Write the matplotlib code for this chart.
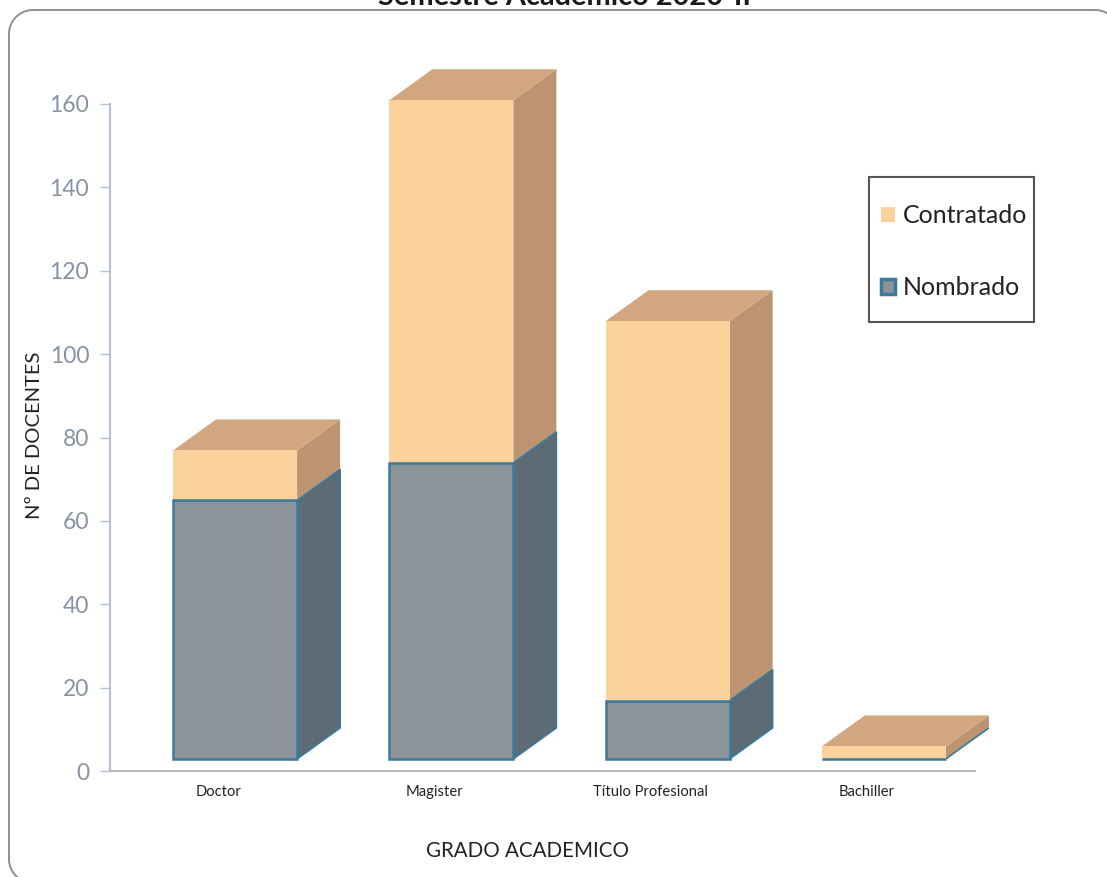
import numpy as np
import matplotlib
matplotlib.use("Agg")
import matplotlib.pyplot as plt
from matplotlib.lines import Line2D
from matplotlib.patches import Polygon, Patch, Rectangle

plt.rcParams['font.family'] = ['Lato', 'DejaVu Sans']

# datos
grados = ["Doctor", "Magister", "Título Profesional", "Bachiller"]
nombrado = [62, 71, 14, 0]
contratado = [12, 87, 91, 3]
ticks_y = [0, 20, 40, 60, 80, 100, 120, 140, 160]

W, H = 1107, 877
PISO = 2.9        # el suelo del 3D queda por encima del eje
DX = 43 / 216.25  # profundidad en unidades de x
DY = 31 / 4.169   # profundidad en unidades de y
ANCHO = 124 / 216.25
DESP = 17 / 216.25

C_FRENTE = "#FBD29C"
C_TECHO = "#D2A77F"
C_LADO_C = "#BC9472"
N_FRENTE = "#8C9499"
N_LADO = "#5D6B75"
N_BORDE = "#3A7A9A"

fig = plt.figure(figsize=(W / 100, H / 100), dpi=100, facecolor="white")


def fig_xy(x, y):
    # pixeles de la imagen (origen arriba) a fraccion de figura
    return x / W, 1 - y / H


def esquina(cx, cy, a0, a1, r=24):
    # arco de esquina en pixeles de la imagen
    t = np.radians(np.linspace(a0, a1, 30))
    return cx + r * np.cos(t), cy - r * np.sin(t)


# marco redondeado, se sale por abajo y por la derecha
x1, y1 = esquina(33, 859, 235, 180)
x2, y2 = esquina(33, 34, 180, 90)
x3, y3 = esquina(1095, 34, 90, 60)
xs, ys = fig_xy(np.r_[x1, x2, x3], np.r_[y1, y2, y3])
fig.add_artist(Line2D(xs, ys, transform=fig.transFigure, color="#8E8E8E", lw=1.4))

ax = fig.add_axes([110 / W, (H - 771) / H, 865 / W, 667 / H])
ax.set_xlim(-0.5, 3.5)
ax.set_ylim(0, 160)
ax.patch.set_alpha(0)


def caja(x, base, alto, frente, lado, techo=None, borde=None, z=2):
    izq = x + DESP - ANCHO / 2
    der = izq + ANCHO
    sup = base + alto
    ec = borde if borde else "none"
    ax.bar(x + DESP, alto, ANCHO, bottom=base, color=frente, edgecolor=ec,
           linewidth=1.8 if borde else 0, clip_on=False, zorder=z + 1)
    ax.add_patch(Polygon([(der, base), (der + DX, base + DY), (der + DX, sup + DY), (der, sup)],
                         fc=lado, ec=ec, lw=1.2 if borde else 0, clip_on=False, zorder=z))
    if techo:
        ax.add_patch(Polygon([(izq, sup), (izq + DX, sup + DY), (der + DX, sup + DY), (der, sup)],
                             fc=techo, ec="none", clip_on=False, zorder=z))


for i in range(len(grados)):
    caja(i, PISO, nombrado[i], N_FRENTE, N_LADO, borde=N_BORDE, z=3)
    caja(i, PISO + nombrado[i], contratado[i], C_FRENTE, C_LADO_C, techo=C_TECHO, z=2)

for lado in ["top", "right"]:
    ax.spines[lado].set_visible(False)
ax.spines["left"].set_color("#B4C0D2")
ax.spines["bottom"].set_color("#B5B9BE")
ax.spines["left"].set_linewidth(1.5)
ax.spines["bottom"].set_linewidth(1.5)

ax.set_yticks(ticks_y)
ax.set_xticks(range(len(grados)))
ax.set_xticklabels(grados, fontsize=10.6, color="#222222")
ax.tick_params(axis="x", length=0, pad=10)
ax.tick_params(axis="y", length=7, width=1, color="#B4C0D2", labelcolor="#8593A5",
               labelsize=16.5, pad=8)

fig.text(*fig_xy(35, 435), "Nº DE DOCENTES", rotation=90, fontsize=14.5, color="#222222",
         ha="center", va="center")
fig.text(*fig_xy(527, 851), "GRADO ACADEMICO", fontsize=14.8, color="#222222",
         ha="center", va="center")
fig.text(*fig_xy(564, 5), "Semestre Académico 2020-II", fontsize=20.8, fontweight="bold",
         color="#1a1a1a", ha="center", va="baseline")

# caja de la leyenda dibujada aparte: los margenes no son iguales a cada lado
x0, y0 = fig_xy(869, 322)
fig.add_artist(Rectangle((x0, y0), 165 / W, 145 / H, transform=fig.transFigure, fc="white",
                         ec="#555555", lw=1.5, zorder=4))
manejadores = [Patch(fc=C_FRENTE, ec="none"), Patch(fc=N_FRENTE, ec=N_BORDE, lw=2.5)]
ley = fig.legend(manejadores, ["Contratado", "Nombrado"], loc="upper left",
                 bbox_to_anchor=fig_xy(881, 204), fontsize=18, frameon=False,
                 labelcolor="#222222", labelspacing=1.97, handlelength=0.55, handleheight=0.55,
                 handletextpad=0.33, borderpad=0, borderaxespad=0)
ley.set_zorder(5)

fig.savefig("out.png", dpi=100)
